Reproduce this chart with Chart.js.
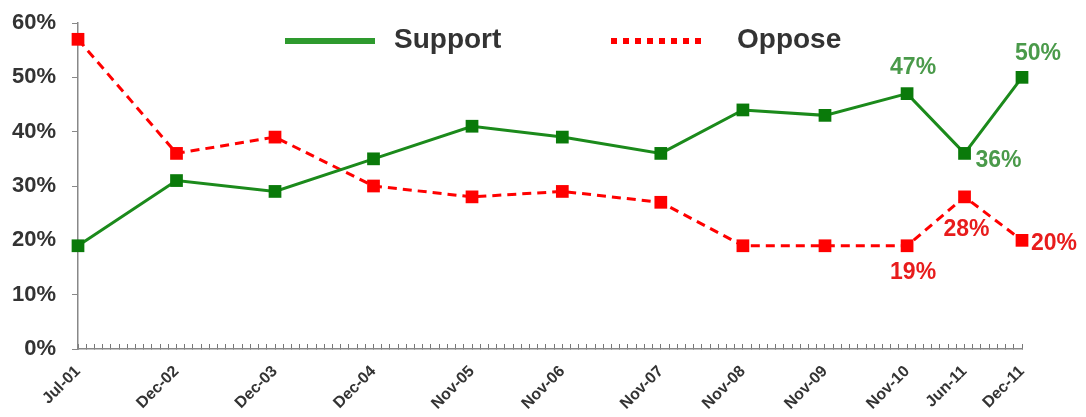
<!DOCTYPE html>
<html>
<head>
<meta charset="utf-8">
<script src="https://cdn.jsdelivr.net/npm/chart.js@4/dist/chart.umd.min.js"></script>
<style>
  html, body { margin: 0; padding: 0; background: #fff; }
  #wrap { width: 1086px; height: 417px; }
</style>
</head>
<body>
<div id="wrap"><canvas id="poll-chart"></canvas></div>
<script>
// survey dates and where they sit on the (uneven) category axis
const labels = ['Jul-01', 'Dec-02', 'Dec-03', 'Dec-04', 'Nov-05', 'Nov-06', 'Nov-07', 'Nov-08', 'Nov-09', 'Nov-10', 'Jun-11', 'Dec-11'];
const slots = [0, 12, 24, 36, 48, 59, 71, 81, 91, 101, 108, 115];
const support = [19, 31, 29, 35, 41, 39, 36, 44, 43, 47, 36, 50];
const oppose = [57, 36, 39, 30, 28, 29, 27, 19, 19, 19, 28, 20];

// which points get a value label, and where it goes
const supportNotes = { 9: 'above', 10: 'belowRight', 11: 'aboveRight' };
const opposeNotes = { 9: 'below', 10: 'belowFar', 11: 'right' };

const FONT = '"Liberation Sans", Arial, sans-serif';
const GREEN = '#1b8a1b';
const RED = '#ff0000';

function points(values) {
    return values.map((v, i) => ({ x: slots[i], y: v }));
}

const notesPlugin = {
    id: 'notes',
    afterDatasetsDraw(chart) {
        const ctx = chart.ctx;
        ctx.save();
        ctx.font = 'bold 23px ' + FONT;
        ctx.textAlign = 'center';
        ctx.textBaseline = 'middle';
        const sets = [[0, supportNotes, '#4a9a4a'], [1, opposeNotes, '#e81c1c']];
        sets.forEach(([di, notes, color]) => {
            const meta = chart.getDatasetMeta(di);
            ctx.fillStyle = color;
            Object.keys(notes).forEach(k => {
                const el = meta.data[k];
                const v = chart.data.datasets[di].data[k].y;
                let x = el.x, y = el.y;
                if (notes[k] == 'above') { x += 6; y -= 26; }
                if (notes[k] == 'aboveRight') { x += 16; y -= 24; }
                if (notes[k] == 'below') { x += 6; y += 27; }
                if (notes[k] == 'belowFar') { x += 2; y += 33; }
                if (notes[k] == 'belowRight') { x += 34; y += 7; }
                if (notes[k] == 'right') { x += 32; y += 3; }
                ctx.fillText(v + '%', x, y);
            });
        });
        ctx.restore();
    }
};

const legendPlugin = {
    id: 'topLegend',
    afterDraw(chart) {
        const ctx = chart.ctx;
        ctx.save();
        ctx.lineWidth = 6;
        ctx.strokeStyle = '#2e9a2e';
        ctx.beginPath();
        ctx.moveTo(285, 41);
        ctx.lineTo(375, 41);
        ctx.stroke();
        ctx.strokeStyle = RED;
        ctx.setLineDash([6, 6]);
        ctx.beginPath();
        ctx.moveTo(611, 41);
        ctx.lineTo(707, 41);
        ctx.stroke();
        ctx.setLineDash([]);
        ctx.fillStyle = '#333';
        ctx.font = 'bold 28px ' + FONT;
        ctx.textBaseline = 'middle';
        ctx.fillText('Support', 394, 40);
        ctx.fillText('Oppose', 737, 40);
        ctx.restore();
    }
};

new Chart(document.getElementById('poll-chart'), {
    type: 'line',
    data: {
        datasets: [{
            label: 'Support',
            data: points(support),
            borderColor: GREEN,
            backgroundColor: '#0a7a0a',
            borderWidth: 3,
            pointStyle: 'rect',
            pointRadius: 9,
            pointBorderWidth: 0,
            tension: 0,
            clip: false
        }, {
            label: 'Oppose',
            data: points(oppose),
            borderColor: RED,
            backgroundColor: RED,
            borderWidth: 3,
            borderDash: [9, 6],
            pointStyle: 'rect',
            pointRadius: 9,
            pointBorderWidth: 0,
            tension: 0,
            clip: false
        }]
    },
    options: {
        responsive: true,
        maintainAspectRatio: false,
        animation: false,
        layout: { padding: { top: 23, right: 64, left: 0, bottom: 0 } },
        plugins: {
            legend: { display: false },
            tooltip: { enabled: false }
        },
        scales: {
            x: {
                type: 'linear',
                min: 0,
                max: 115,
                afterFit: s => {
                    s.height = 68;
                    s.paddingTop = 0;
                    s.paddingLeft = 0;
                    s.paddingRight = 0;
                },
                afterBuildTicks: s => {
                    s.ticks = [];
                    for (let i = 0; i <= 115; i++) s.ticks.push({ value: i });
                },
                ticks: {
                    autoSkip: false,
                    minRotation: 45,
                    maxRotation: 45,
                    padding: 18,
                    color: '#333',
                    font: { family: FONT, weight: 'bold', size: 16 },
                    callback: v => {
                        const i = slots.indexOf(v);
                        return i >= 0 ? labels[i] : '';
                    }
                },
                grid: { drawOnChartArea: false, tickLength: -5, color: '#777' },
                border: { color: '#888', width: 1.5 }
            },
            y: {
                min: 0,
                max: 60,
                afterFit: s => {
                    s.width = 78;
                    s.paddingTop = 0;
                    s.paddingBottom = 0;
                },
                ticks: {
                    stepSize: 5,
                    padding: 16,
                    color: '#333',
                    font: { family: FONT, weight: 'bold', size: 22 },
                    callback: v => (v % 10 == 0 ? v + '%' : '')
                },
                grid: { drawOnChartArea: false, tickLength: 6, color: '#888' },
                border: { color: '#888', width: 1.5 }
            }
        }
    },
    plugins: [notesPlugin, legendPlugin]
});
</script>
</body>
</html>
